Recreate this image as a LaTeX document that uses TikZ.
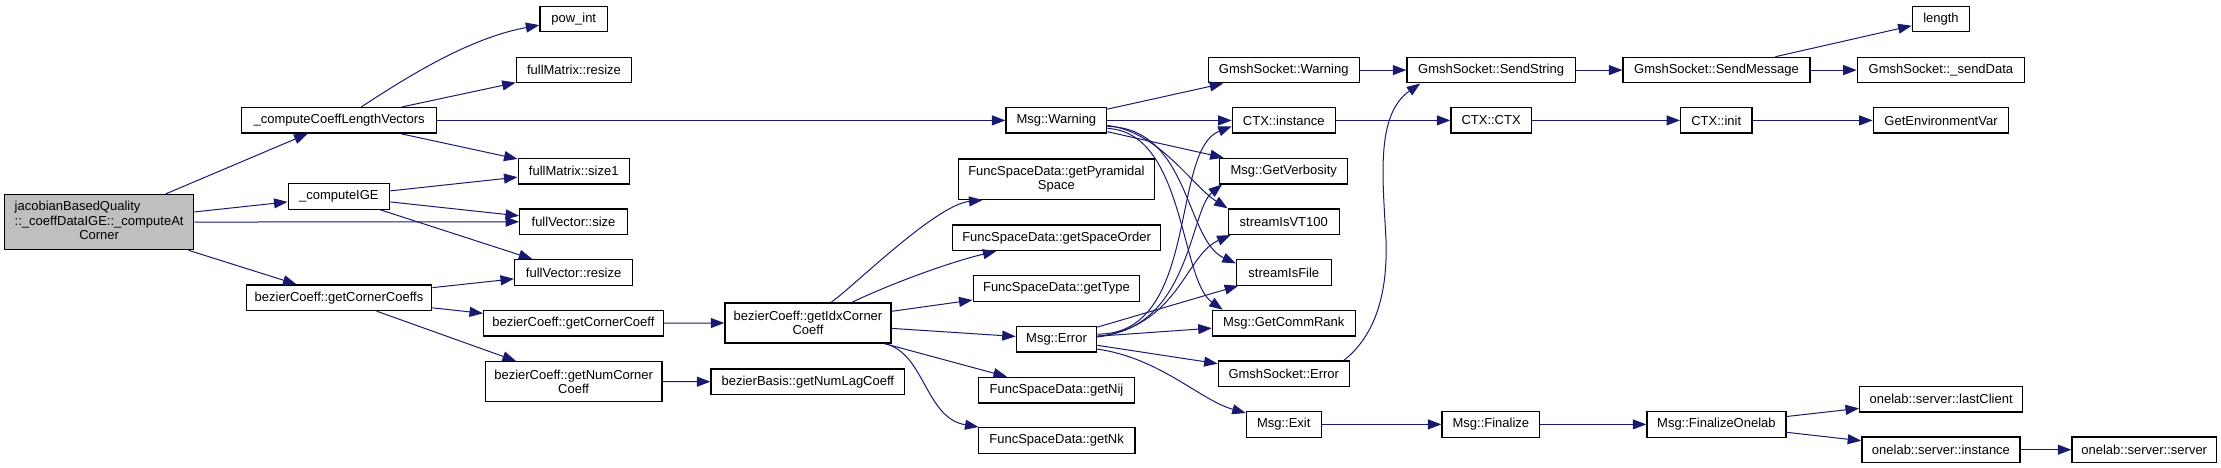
\documentclass[tikz,border=0pt]{standalone}
\usepackage{fontspec}
\setmainfont{Liberation Sans}
\usepackage{tikz}
\usetikzlibrary{calc,arrows.meta}
\definecolor{edgeblue}{HTML}{191970}
\definecolor{rootgray}{HTML}{BFBFBF}
\newcommand{\Lbl}{\fontsize{13}{14.3}\selectfont}
\tikzset{
  fn/.style={draw=black, line width=1.3pt, fill=white, anchor=north west, inner sep=0pt,
    minimum height=25.5pt, font=\Lbl, align=center},
  call/.style={edgeblue, line width=1pt, -{Triangle[length=13.5pt,width=10pt]}}
}
\begin{document}
\begin{tikzpicture}[x=1pt,y=-1pt]
  \useasboundingbox (0,0) rectangle (2221,468);
  \node[fn, fill=rootgray, minimum width=189pt, minimum height=55pt] (root) at (4,194)
    {\begin{tabular}{@{}l@{}}jacobianBasedQuality\\::\_coeffDataIGE::\_computeAt\\\multicolumn{1}{@{}c@{}}{Corner}\end{tabular}};
  % CALLEES
  \foreach \nm/\x/\y/\w/\h/\txt in {
      clv/241/107/195/25.5/\_computeCoeffLengthVectors,
      ige/287.5/183/101.5/25.5/\_computeIGE,
      gcc/245.7/284.3/185.3/25.5/bezierCoeff::getCornerCoeffs,
      powint/539.3/5.7/67.5/25.5/pow\_int,
      fmresize/515.7/56.7/115.3/25.5/fullMatrix::resize,
      fmsize/517.5/157.7/111.1/25.5/fullMatrix::size1,
      fvsize/519/208.3/107.8/25.5/fullVector::size,
      fvresize/514/259/118/25.5/fullVector::resize,
      gcc1/483/309.7/179.5/25.5/bezierCoeff::getCornerCoeff,
      gncc/484.6/361/176.8/40/bezierCoeff::getNumCorner\\Coeff,
      gicc/724.3/302.3/166.1/40/bezierCoeff::getIdxCorner\\Coeff,
      gnlc/710.4/368.3/193.6/25.5/bezierBasis::getNumLagCoeff,
      mwarn/1005.4/107/100.6/25.5/Msg::Warning,
      gpyr/957.5/158.3/196.5/40.4/FuncSpaceData::getPyramidal\\Space,
      gso/951.8/224.3/208.2/25.5/FuncSpaceData::getSpaceOrder,
      gtype/972.5/275/166.5/25.5/FuncSpaceData::getType,
      merr/1015.7/325.7/80.3/25.5/Msg::Error,
      gnij/978/376.7/155.6/25.5/FuncSpaceData::getNij,
      gnk/977.5/427/156.9/25.5/FuncSpaceData::getNk,
      gswarn/1207.6/56.7/151/25.5/GmshSocket::Warning,
      gsstr/1406.3/56.7/168.3/25.5/GmshSocket::SendString,
      gsmsg/1622.4/56.7/186.9/25.5/GmshSocket::SendMessage,
      ctxinst/1231.7/107/102.8/25.5/CTX::instance,
      ctx/1450.3/107/80.3/25.5/CTX::CTX,
      ctxinit/1680/107/71.2/25.5/CTX::init,
      genv/1872.7/107/135.3/25.5/GetEnvironmentVar,
      len/1911.6/5.7/57.4/25.5/length,
      gsend/1856.7/56.7/167.1/25.5/GmshSocket::\_sendData,
      gverb/1219.1/157.7/128/25.5/Msg::GetVerbosity,
      svt/1227.6/208.3/111/25.5/streamIsVT100,
      sfile/1235.8/259/94.7/25.5/streamIsFile,
      grank/1211.7/309.7/142.8/25.5/Msg::GetCommRank,
      gserr/1217.6/360.3/131/25.5/GmshSocket::Error,
      mexit/1245.7/411/74.8/25.5/Msg::Exit,
      mfin/1441.4/411/97.7/25.5/Msg::Finalize,
      mfinol/1646.3/411/138.9/25.5/Msg::FinalizeOnelab,
      olast/1859/385.7/163/25.5/onelab::server::lastClient,
      oinst/1861.2/436.3/158.2/25.5/onelab::server::instance,
      oserv/2071.3/436.3/144.5/25.5/onelab::server::server}{
    \node[fn, minimum width=\w pt, minimum height=\h pt] (\nm) at (\x,\y) {\txt};}
  % straight calls
  \foreach \a/\b in {root/clv, root/ige, root/fvsize, root/gcc, clv/fmresize, clv/mwarn,
      clv/fmsize, ige/fmsize, ige/fvsize, ige/fvresize, gcc/fvresize, gcc/gcc1, gcc/gncc,
      gcc1/gicc, gncc/gnlc, gicc/gtype, gicc/merr, gicc/gnij, mwarn/gswarn, mwarn/ctxinst,
      mwarn/gverb, merr/sfile, merr/grank, merr/gserr, gswarn/gsstr, gsstr/gsmsg, gsmsg/len,
      gsmsg/gsend, ctxinst/ctx, ctx/ctxinit, ctxinit/genv, mexit/mfin, mfin/mfinol,
      mfinol/olast, mfinol/oinst, oinst/oserv}
    \draw[call] (\a) -- (\b);
  % bent calls
  \draw[call] ($(clv.north)+(22,0)$) .. controls (410,75) and (470,38) .. ($(powint.west)+(0,6)$);
  \draw[call] ($(gicc.north)+(23,0)$) .. controls (850,290) and (935,205) .. ($(gpyr.south west)+(25,0)$);
  \draw[call] ($(gicc.north)+(44,0)$) .. controls (890,284) and (950,262) .. ($(gso.south west)+(44.6,0)$);
  \draw[call] ($(gicc.south east)+(-7,0)$) .. controls (925,353) and (925,418) .. ($(gnk.north west)+(1,0)$);
  \draw[call] ($(mwarn.east)+(0,5)$) .. controls (1160,132) and (1192,186) .. (svt.north west);
  \draw[call] ($(mwarn.east)+(0,6)$) .. controls (1190,128) and (1185,240) .. ($(sfile.west)+(0,-9)$);
  \draw[call] ($(mwarn.east)+(0,8)$) .. controls (1185,132) and (1180,280) .. ($(grank.north west)+(11,0)$);
  \draw[call] ($(merr.east)+(0,-5)$) .. controls (1200,335) and (1170,150) .. ($(ctxinst.west)+(0,6)$);
  \draw[call] ($(merr.east)+(0,-3)$) .. controls (1190,330) and (1190,210) .. ($(gverb.south west)+(3,0)$);
  \draw[call] ($(merr.east)+(0,-2)$) .. controls (1180,325) and (1185,255) .. ($(svt.south west)+(3,0)$);
  \draw[call] ($(merr.east)+(0,10)$) .. controls (1160,358) and (1200,400) .. ($(mexit.north west)+(0,2)$);
  \draw[call] ($(gserr.north east)+(-6,0)$) .. controls (1372,338) and (1388,300) .. (1386,240)
    .. controls (1383,180) and (1375,115) .. ($(gsstr.south west)+(14,0)$);
\end{tikzpicture}
\end{document}
